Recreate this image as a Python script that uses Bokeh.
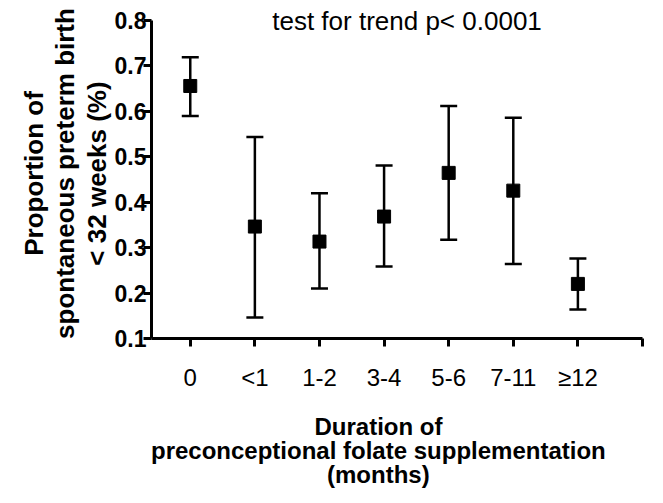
from bokeh.plotting import figure
from bokeh.models import (Range1d, FixedTicker, Whisker, ColumnDataSource, Title,
                          Label, TeeHead, PrintfTickFormatter)
from bokeh.embed import file_html
from bokeh.resources import INLINE

categories = ["0", "<1", "1-2", "3-4", "5-6", "7-11", "≥12"]
proportion = [0.655, 0.346, 0.313, 0.368, 0.464, 0.425, 0.220]
upper = [0.718, 0.543, 0.419, 0.480, 0.611, 0.585, 0.276]
lower = [0.589, 0.146, 0.210, 0.258, 0.317, 0.264, 0.164]
y_ticks = [0.1, 0.2, 0.3, 0.4, 0.5, 0.6, 0.7, 0.8]
annotation = "test for trend p< 0.0001"
y_label_lines = ["Proportion of", "spontaneous preterm birth", "< 32 weeks (%)"]
x_label_lines = ["Duration of", "preconceptional folate supplementation", "(months)"]

FONT = "Liberation Sans"
xpos = list(range(len(categories)))

src = ColumnDataSource(dict(x=xpos, y=proportion, upper=upper, lower=lower))

p = figure(width=655, height=495, output_backend="svg", toolbar_location=None,
           x_range=Range1d(-0.6, len(categories)), y_range=Range1d(0.1, 0.8253),
           min_border_left=151, min_border_right=13, min_border_top=8,
           min_border_bottom=157)
p.outline_line_color = None
p.xgrid.visible = False
p.ygrid.visible = False

w = Whisker(base="x", upper="upper", lower="lower", source=src,
            line_width=2.5, line_color="black",
            upper_head=TeeHead(size=17, line_width=2.5, line_color="black"),
            lower_head=TeeHead(size=17, line_width=2.5, line_color="black"))
p.add_layout(w)
p.scatter("x", "y", source=src, marker="square", size=13, color="black")

# axes
for ax in (p.xaxis[0], p.yaxis[0]):
    ax.axis_line_width = 3
    ax.major_tick_line_width = 3
    ax.major_tick_out = 8
    ax.major_tick_in = 0
    ax.minor_tick_line_color = None
    ax.major_label_text_font = FONT
    ax.major_label_text_color = "black"

p.xaxis.ticker = FixedTicker(ticks=xpos + [len(categories)])
overrides = {i: c for i, c in enumerate(categories)}
overrides[len(categories)] = ""
p.xaxis.major_label_overrides = overrides
p.xaxis.major_label_text_font_size = "24px"
p.xaxis.major_label_standoff = 17

p.yaxis.ticker = FixedTicker(ticks=y_ticks)
p.yaxis.bounds = (0.1, 0.8)
p.yaxis.formatter = PrintfTickFormatter(format="%.1f")
p.yaxis.major_label_text_font_size = "23px"
p.yaxis.major_label_text_font_style = "bold"
p.yaxis.major_label_standoff = -3

# spacer between tick labels and the x-axis title
p.add_layout(Title(text=" ", text_font=FONT, text_font_size="24px",
                   vertical_align="middle", standoff=-8), "below")
# x-axis title lines, centred ~18px left of the frame centre
x_widths = [128, 455, 103]   # approx rendered widths of the lines at 24px bold
for line, wd in zip(x_label_lines, x_widths):
    p.add_layout(Title(text=line, align="left", offset=227 - wd / 2, text_font=FONT,
                       text_font_size="24px", text_font_style="bold",
                       text_color="black", vertical_align="middle", standoff=-5),
                 "below")
for i, line in enumerate(reversed(y_label_lines)):
    p.add_layout(Title(text=line, align="center", text_font=FONT,
                       text_font_size="26px", text_font_style="bold",
                       text_color="black", standoff=0 if i == 0 else -1),
                 "left")

p.add_layout(Label(x=3.355, y=0.798, text=annotation, text_align="center",
                   text_baseline="middle", text_font=FONT, text_font_size="26px",
                   text_color="black"))

open("out.html", "w").write(file_html(p, INLINE))
